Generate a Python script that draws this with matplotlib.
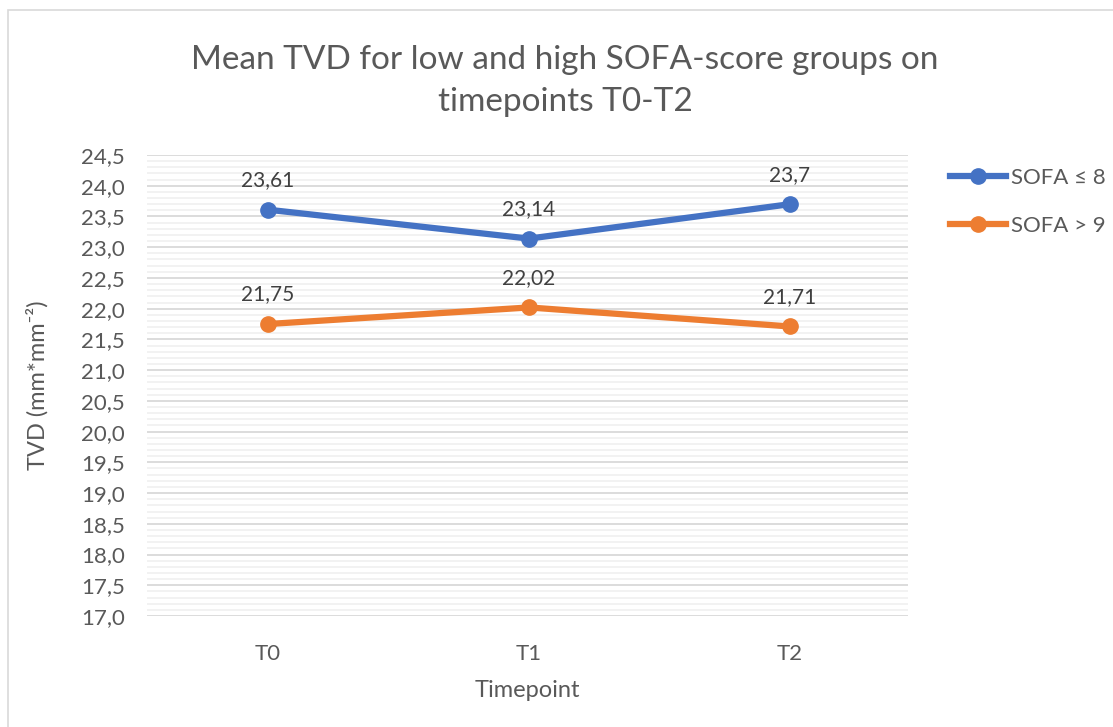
import matplotlib.pyplot as plt
from matplotlib.patches import Rectangle
from matplotlib.ticker import MultipleLocator, FuncFormatter

plt.rcParams['font.family'] = ['Lato', 'DejaVu Sans']

timepoints = ['T0', 'T1', 'T2']
low_sofa = [23.61, 23.14, 23.70]
high_sofa = [21.75, 22.02, 21.71]
low_labels = ['23,61', '23,14', '23,7']
high_labels = ['21,75', '22,02', '21,71']

txt = '#595959'
blue = '#4472C4'
orange = '#ED7D31'

fig = plt.figure(figsize=(11.13, 7.27), dpi=100)
ax = fig.add_axes([147 / 1113, 1 - 616 / 727, 761 / 1113, 461 / 727])

# chart border
fig.patches.append(Rectangle((8 / 1113, -0.1), 1.2, 1 - 10 / 727 + 0.1,
                             transform=fig.transFigure, fill=False,
                             edgecolor='#d9d9d9', linewidth=1.2))

x = range(len(timepoints))
ax.plot(x, low_sofa, color=blue, lw=4.5, marker='o', ms=11, label='SOFA ≤ 8',
        zorder=3)
ax.plot(x, high_sofa, color=orange, lw=4.5, marker='o', ms=11, label='SOFA > 9',
        zorder=3)

for i in x:
    ax.annotate(low_labels[i], (i, low_sofa[i]), xytext=(0, 14),
                textcoords='offset points', ha='center', va='bottom',
                fontsize=15, color='#404040')
    ax.annotate(high_labels[i], (i, high_sofa[i]), xytext=(0, 14),
                textcoords='offset points', ha='center', va='bottom',
                fontsize=15, color='#404040')

ax.set_ylim(17.0, 24.5)
ax.set_xlim(-0.4636, 2.452)
ax.yaxis.set_major_locator(MultipleLocator(0.5))
ax.yaxis.set_minor_locator(MultipleLocator(0.1))
ax.yaxis.set_major_formatter(FuncFormatter(lambda v, p: f'{v:.1f}'.replace('.', ',')))
ax.grid(axis='y', which='major', color='#d9d9d9', lw=1.3)
ax.grid(axis='y', which='minor', color='#efefef', lw=1.1)
ax.set_axisbelow(True)
ax.set_xticks(list(x))
ax.set_xticklabels(timepoints)
ax.tick_params(axis='both', which='both', length=0, labelsize=16, labelcolor=txt)
ax.tick_params(axis='x', pad=20)
ax.tick_params(axis='y', pad=16)
for s in ax.spines.values():
    s.set_visible(False)

ax.set_xlabel('Timepoint', fontsize=17, color=txt, labelpad=12)
ax.set_ylabel('TVD (mm*mm⁻²)', fontsize=17, color=txt, labelpad=23)

fig.text(565 / 1113, 1 - 81 / 727,
         'Mean TVD for low and high SOFA-score groups on\ntimepoints T0-T2',
         ha='center', va='center', fontsize=24, color=txt, linespacing=1.5)

leg = fig.legend(loc='upper left', bbox_to_anchor=(950 / 1113, 1 - 168 / 727),
                 frameon=False, fontsize=16, labelcolor=txt, handlelength=2.5,
                 handletextpad=0.25, labelspacing=1.25, borderpad=0,
                 borderaxespad=0)

fig.savefig('out.png', dpi=100)
